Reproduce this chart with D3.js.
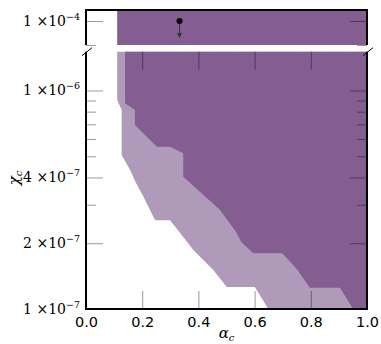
<!DOCTYPE html>
<html>
<head>
<meta charset="utf-8">
<script src="https://cdn.jsdelivr.net/npm/d3@7/dist/d3.min.js"></script>
<style>
  body { margin: 0; background: #fff; }
  .tick line { stroke: #000; stroke-opacity: 0.4; stroke-width: 1; }
</style>
</head>
<body>
<svg id="chart" width="381" height="344"></svg>
<script>
// boundaries of the two regions (alpha_c, chi_c)
const lightAlpha = [0.111, 0.111, 0.127, 0.127, 0.157, 0.178, 0.204, 0.246, 0.299, 0.335, 0.382, 0.453, 0.501, 0.601, 0.649];
const lightChi   = [1.6e-6, 9.05e-7, 8.14e-7, 5.07e-7, 4.33e-7, 3.77e-7, 3.27e-7, 2.55e-7, 2.55e-7, 2.23e-7, 1.86e-7, 1.51e-7, 1.26e-7, 1.26e-7, 1.0e-7];

const darkAlpha = [0.139, 0.139, 0.174, 0.174, 0.252, 0.299, 0.346, 0.346, 0.477, 0.534, 0.552, 0.595, 0.698, 0.747, 0.797, 0.904, 0.950];
const darkChi   = [1.6e-6, 8.74e-7, 8.14e-7, 6.95e-7, 5.53e-7, 5.53e-7, 5.16e-7, 4.03e-7, 2.84e-7, 2.25e-7, 2.03e-7, 1.80e-7, 1.80e-7, 1.54e-7, 1.25e-7, 1.25e-7, 1.0e-7];

// upper panel: dark region spans this alpha range
const topDarkAlpha = [0.111, 1.0];

// upper limit marker
const limitAlpha = [0.333];
const limitChi = [1.0e-4];

const xTicks = [0, 0.2, 0.4, 0.6, 0.8, 1.0];
const yMajor = [1e-7, 2e-7, 4e-7, 1e-6];
const yMajorMant = ["1", "2", "4", "1"];
const yMajorExp = ["\u22127", "\u22127", "\u22127", "\u22126"];
const yMinor = [3e-7, 5e-7, 6e-7, 7e-7, 8e-7, 9e-7];
const yTopMajor = [1e-4];
const yTopMant = ["1"];
const yTopExp = ["\u22124"];
const yTopMinor = [9e-5];

const darkColor = "#845e91";
const lightColor = "#b09aba";

const svg = d3.select("#chart");

// panel geometry
const left = 86, right = 367;
const topTop = 10, topBottom = 45;
const botTop = 51.7, botBottom = 309;

const x = d3.scaleLinear().domain([0, 1]).range([left, right]);
const yB = d3.scaleLog().domain([1e-7, 1.505e-6]).range([botBottom, botTop]);
const yT = d3.scaleLog().domain([9e-5, 1.0495e-4]).range([topBottom, topTop]);

const defs = svg.append("defs");
defs.append("clipPath").attr("id", "clipB")
  .append("rect").attr("x", left).attr("y", botTop).attr("width", right - left).attr("height", botBottom - botTop);
defs.append("clipPath").attr("id", "clipT")
  .append("rect").attr("x", left).attr("y", topTop).attr("width", right - left).attr("height", topBottom - topTop);

const line = d3.line().x(d => x(d[0])).y(d => yB(d[1]));

// light region, closed along the right edge
const lightPts = d3.zip(lightAlpha, lightChi).concat([[1, 1e-7], [1, 1.6e-6]]);
const darkPts = d3.zip(darkAlpha, darkChi).concat([[1, 1e-7], [1, 1.6e-6]]);

const gB = svg.append("g").attr("clip-path", "url(#clipB)");
gB.append("path").attr("d", line(lightPts) + "Z").attr("fill", lightColor);
gB.append("path").attr("d", line(darkPts) + "Z").attr("fill", darkColor);

// top panel fill
const gT = svg.append("g").attr("clip-path", "url(#clipT)");
gT.append("rect")
  .attr("x", x(topDarkAlpha[0]))
  .attr("y", yT.range()[1])
  .attr("width", x(topDarkAlpha[1]) - x(topDarkAlpha[0]))
  .attr("height", yT.range()[0] - yT.range()[1])
  .attr("fill", darkColor);

// ticks (inward)
function noDomain(g) { g.select(".domain").remove(); }

svg.append("g").attr("transform", `translate(0,${botBottom})`)
  .call(d3.axisBottom(x).tickValues(xTicks).tickSizeInner(-18).tickSizeOuter(0).tickPadding(8).tickFormat(d3.format(".1f")))
  .call(noDomain)
  .call(g => g.selectAll("text").attr("font-family", "DejaVu Sans").attr("font-size", 14.5).attr("fill", "#000"));

svg.append("g").attr("transform", `translate(0,${botTop})`)
  .call(d3.axisTop(x).tickValues(xTicks.slice(1, -1)).tickSizeInner(-18).tickSizeOuter(0).tickFormat(""))
  .call(noDomain);

function yAxes(scale, major, minor) {
  svg.append("g").attr("transform", `translate(${left},0)`)
    .call(d3.axisLeft(scale).tickValues(major).tickSizeInner(-17).tickSizeOuter(0).tickFormat(""))
    .call(noDomain);
  svg.append("g").attr("transform", `translate(${left},0)`)
    .call(d3.axisLeft(scale).tickValues(minor).tickSizeInner(-10).tickSizeOuter(0).tickFormat(""))
    .call(noDomain);
  svg.append("g").attr("transform", `translate(${right},0)`)
    .call(d3.axisRight(scale).tickValues(major).tickSizeInner(-17).tickSizeOuter(0).tickFormat(""))
    .call(noDomain);
  svg.append("g").attr("transform", `translate(${right},0)`)
    .call(d3.axisRight(scale).tickValues(minor).tickSizeInner(-10).tickSizeOuter(0).tickFormat(""))
    .call(noDomain);
}
yAxes(yB, yMajor, yMinor);
yAxes(yT, yTopMajor, yTopMinor);

// y tick labels as  m ×10^e
function yLabels(scale, vals, mant, exps) {
  vals.forEach((v, i) => {
    const t = svg.append("text")
      .attr("x", 80).attr("y", scale(v) + 5)
      .attr("text-anchor", "end")
      .attr("font-family", "DejaVu Serif").attr("font-size", 14);
    t.append("tspan").text(mant[i] + " \u00d710");
    t.append("tspan").attr("font-size", 9.5).attr("dy", -6.5).text(exps[i]);
  });
}
yLabels(yB, yMajor, yMajorMant, yMajorExp);
yLabels(yT, yTopMajor, yTopMant, yTopExp);

// spines
const spine = svg.append("g").attr("stroke", "#000").attr("stroke-width", 2).attr("fill", "none");
spine.append("path").attr("d", `M${left},${topBottom}V${topTop}H${right}V${topBottom}`);
spine.append("path").attr("d", `M${left},${botTop}V${botBottom}H${right}V${botTop}`);

// break marks
const brk = svg.append("g").attr("stroke", "#000").attr("stroke-width", 1);
[left, right].forEach(px => {
  brk.append("line").attr("x1", px - 4).attr("y1", botTop + 4).attr("x2", px + 6).attr("y2", botTop - 4);
});

// upper-limit point with arrow
const lim = d3.zip(limitAlpha, limitChi);
svg.append("g").selectAll("path.arrow").data(lim).join("path")
  .attr("class", "arrow")
  .attr("d", d => `M${x(d[0])},${yT(d[1])}V${yT(d[1]) + 16}`)
  .attr("stroke", "#333").attr("stroke-width", 1);
svg.append("g").selectAll("path.head").data(lim).join("path")
  .attr("class", "head")
  .attr("d", d => `M${x(d[0]) - 2.5},${yT(d[1]) + 12}L${x(d[0]) + 2.5},${yT(d[1]) + 12}L${x(d[0])},${yT(d[1]) + 17}Z`)
  .attr("fill", "#333");
svg.append("g").selectAll("circle").data(lim).join("circle")
  .attr("cx", d => x(d[0])).attr("cy", d => yT(d[1])).attr("r", 3)
  .attr("fill", "#000");

// axis labels
const xl = svg.append("text")
  .attr("x", (left + right) / 2).attr("y", 338)
  .attr("text-anchor", "middle")
  .attr("font-family", "DejaVu Serif").attr("font-style", "italic").attr("font-size", 15);
xl.append("tspan").text("\u03b1");
xl.append("tspan").attr("font-size", 10).attr("dy", 3).text("c");

const yl = svg.append("text")
  .attr("transform", `translate(19,178) rotate(-90)`)
  .attr("text-anchor", "middle")
  .attr("font-family", "DejaVu Serif").attr("font-style", "italic").attr("font-size", 15);
yl.append("tspan").text("\u03c7");
yl.append("tspan").attr("font-size", 10).attr("dy", 3).text("c");
</script>
</body>
</html>
